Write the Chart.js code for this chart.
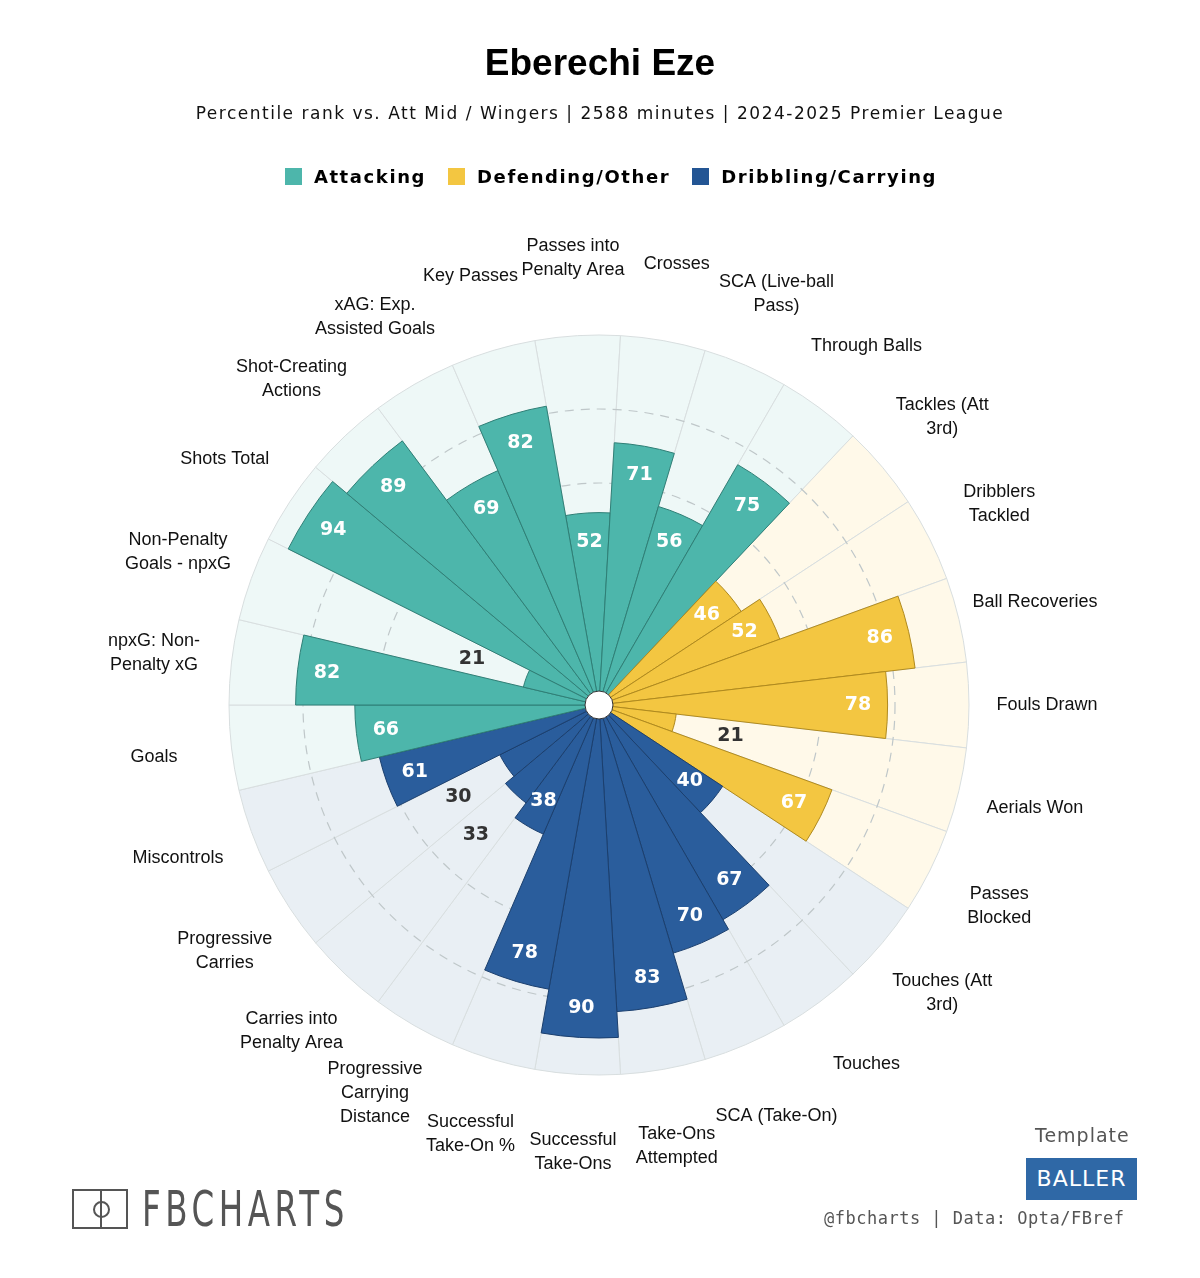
<!DOCTYPE html>
<html><head><meta charset="utf-8">
<script src="https://cdn.jsdelivr.net/npm/chart.js@4.4.1/dist/chart.umd.min.js"></script>
<style>
body{margin:0;background:#fff;font-family:"Liberation Sans",Arial,sans-serif;}
#wrap{position:relative;width:1200px;height:1278px;}
canvas{position:absolute;left:0;top:0;}
.t{position:absolute;left:0;width:1200px;text-align:center;}
#title{top:42px;font-size:37px;font-weight:bold;}
#sub{top:103px;font-family:"DejaVu Sans";font-size:17px;letter-spacing:1.5px;color:#111;}
#legend{top:166px;font-family:"DejaVu Sans";font-size:18px;font-weight:bold;letter-spacing:1.6px;}
#legend span.sw{display:inline-block;width:17px;height:17px;vertical-align:-2px;margin:0 12px 0 22px;}
#logo{position:absolute;left:72px;top:1180px;display:flex;align-items:center;}
#logo .box{width:56px;height:40px;border:2px solid #555;position:relative;box-sizing:border-box;}
#logo .box:before{content:"";position:absolute;left:26px;top:0;width:2px;height:36px;background:#555;}
#logo .box:after{content:"";position:absolute;left:19px;top:10px;width:13px;height:13px;border:2px solid #555;border-radius:50%;}
#logo .txt{font-family:"DejaVu Sans";font-size:50px;color:#555;letter-spacing:7px;transform:scaleX(0.65);transform-origin:left center;margin-left:14px;}
#tmpl{position:absolute;left:1035px;top:1124px;font-family:"DejaVu Sans";font-size:19px;color:#555;letter-spacing:1px;}
#baller{position:absolute;left:1026px;top:1158px;width:111px;height:42px;background:#2f68a6;color:#fff;font-family:"DejaVu Sans";font-size:22px;line-height:42px;text-align:center;letter-spacing:1px;}
#credit{position:absolute;left:824px;top:1208px;font-family:"DejaVu Sans Mono";font-size:17px;color:#555;letter-spacing:0.5px;}
</style></head><body>
<div id="wrap">
<canvas id="c" width="1200" height="1278"></canvas>
<div class="t" id="title">Eberechi Eze</div>
<div class="t" id="sub">Percentile rank vs. Att Mid / Wingers | 2588 minutes | 2024-2025 Premier League</div>
<div class="t" id="legend"><span class="sw" style="background:#4db6ab"></span>Attacking<span class="sw" style="background:#f3c641"></span>Defending/Other<span class="sw" style="background:#235594"></span>Dribbling/Carrying</div>
<div id="logo"><div class="box"></div><div class="txt">FBCHARTS</div></div>
<div id="tmpl">Template</div>
<div id="baller">BALLER</div>
<div id="credit">@fbcharts | Data: Opta/FBref</div>
</div>
<script>
const categories = [
  ["Passes into","Penalty Area"],["Crosses"],["SCA (Live-ball","Pass)"],["Through Balls"],
  ["Tackles (Att","3rd)"],["Dribblers","Tackled"],["Ball Recoveries"],["Fouls Drawn"],["Aerials Won"],["Passes","Blocked"],
  ["Touches (Att","3rd)"],["Touches"],["SCA (Take-On)"],["Take-Ons","Attempted"],["Successful","Take-Ons"],
  ["Successful","Take-On %"],["Progressive","Carrying","Distance"],["Carries into","Penalty Area"],["Progressive","Carries"],["Miscontrols"],
  ["Goals"],["npxG: Non-","Penalty xG"],["Non-Penalty","Goals - npxG"],["Shots Total"],["Shot-Creating","Actions"],["xAG: Exp.","Assisted Goals"],["Key Passes"]
];
const groups = ["A","A","A","A","D","D","D","D","D","D","C","C","C","C","C","C","C","C","C","C","A","A","A","A","A","A","A"];
const percentiles = [52,71,56,75,46,52,86,78,21,67,40,67,70,83,90,78,38,33,30,61,66,82,21,94,89,69,82];
const maxValues = categories.map(()=>100);

const barColor = {A:"#4db6ab",D:"#f3c641",C:"#2a5d9c"};
const barEdge = {A:"#2f7f76",D:"#b08a1e",C:"#1b3f6e"};
const bgColor = {A:"#eef8f7",D:"#fff9e9",C:"#e9eff4"};
const startDeg = -10;

const deco = {
  id:"deco",
  beforeDatasetDraw(chart,args){
    if(args.index!==0) return;
    const r=chart.scales.r, ctx=chart.ctx;
    ctx.save();
    ctx.setLineDash([9,7]);ctx.strokeStyle="#bfc7c9";ctx.lineWidth=1.2;
    [60,80].forEach(v=>{ctx.beginPath();ctx.arc(r.xCenter,r.yCenter,r.getDistanceFromCenterForValue(v),0,Math.PI*2);ctx.stroke();});
    ctx.restore();
  },
  afterDatasetsDraw(chart){
    const r=chart.scales.r, ctx=chart.ctx, n=percentiles.length;
    const step=2*Math.PI/n, start=-Math.PI/2+startDeg*Math.PI/180;
    ctx.save();
    ctx.fillStyle="#fff";ctx.beginPath();ctx.arc(r.xCenter,r.yCenter,14,0,Math.PI*2);ctx.fill();
    ctx.strokeStyle="#333";ctx.lineWidth=1;ctx.stroke();
    ctx.textAlign="center";ctx.textBaseline="middle";
    percentiles.forEach((v,i)=>{
      const a=start+step*(i+0.5);
      const low=v<35;
      const d=r.getDistanceFromCenterForValue(low?v+15.5:v-8);
      ctx.font="bold 19px 'DejaVu Sans'";
      ctx.fillStyle=low?"#333":"#fff";
      ctx.fillText(v,r.xCenter+Math.cos(a)*d,r.yCenter+Math.sin(a)*d);
      const ld=448, lh=24, lines=categories[i];
      ctx.font="18px 'Liberation Sans', Arial";ctx.fillStyle="#111";
      const x=r.xCenter+Math.cos(a)*ld, y=r.yCenter+Math.sin(a)*ld;
      lines.forEach((t,j)=>ctx.fillText(t,x,y+(j-(lines.length-1)/2)*lh));
    });
    ctx.restore();
  }
};

new Chart(document.getElementById("c"),{
  type:"polarArea",
  data:{labels:categories.map(c=>c.join(" ")),datasets:[
    {data:percentiles,backgroundColor:groups.map(g=>barColor[g]),borderColor:groups.map(g=>barEdge[g]),borderWidth:1},
    {data:maxValues,backgroundColor:groups.map(g=>bgColor[g]),borderColor:"#d8dedf",borderWidth:1}
  ]},
  options:{
    responsive:false,animation:false,
    layout:{padding:{left:229,right:231,top:335,bottom:203}},
    plugins:{legend:{display:false},tooltip:{enabled:false}},
    scales:{r:{min:0,max:100,startAngle:startDeg,ticks:{display:false},grid:{display:false},angleLines:{display:false},pointLabels:{display:false}}}
  },
  plugins:[deco]
});
</script>
</body></html>
